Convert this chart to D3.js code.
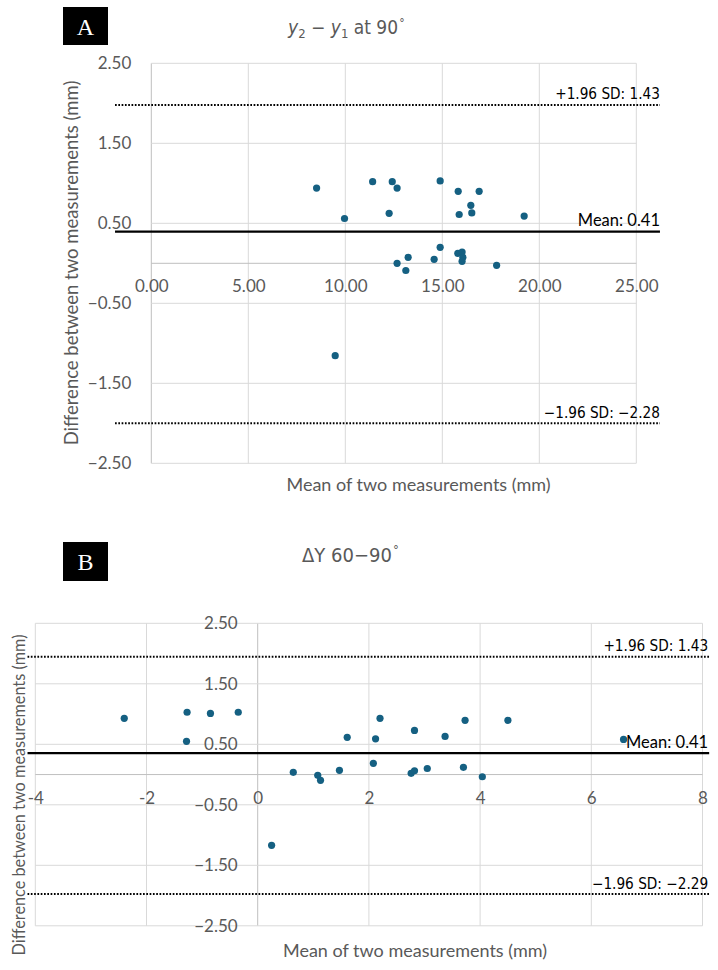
<!DOCTYPE html>
<html><head><meta charset="utf-8">
<script src="https://cdn.jsdelivr.net/npm/d3@7"></script>
<style>body{margin:0;background:#fff} svg{display:block}</style>
</head><body><svg id="c" width="718" height="970"></svg>
<script>
// ---------- Panel A data ----------
const meanA = [8.52, 11.41, 12.42, 12.67, 14.89, 15.82, 16.90, 16.47, 16.52, 15.87, 12.26, 9.96, 19.22, 14.89, 15.80, 16.02, 16.06, 16.02, 14.58, 13.24, 12.67, 13.12, 17.80, 9.48];
const diffA = [0.94, 1.02, 1.02, 0.94, 1.03, 0.90, 0.90, 0.725, 0.63, 0.61, 0.625, 0.56, 0.59, 0.20, 0.125, 0.14, 0.075, 0.025, 0.05, 0.075, 0.0, -0.09, -0.025, -1.155];
const xTicksA = [0, 5, 10, 15, 20, 25];
const xTickLabelsA = ["0.00", "5.00", "10.00", "15.00", "20.00", "25.00"];
const yTicks = [2.5, 1.5, 0.5, -0.5, -1.5, -2.5];
const yTickLabels = ["2.50", "1.50", "0.50", "\u22120.50", "\u22121.50", "\u22122.50"];
const lineValuesA = [1.98, 0.395, -2.0];
const lineLabelsA = ["+1.96 SD: 1.43", "Mean: 0.41", "\u22121.96 SD: \u22122.28"];
const lineKinds = ["dotted", "solid", "dotted"];
const lineExtentA = [-1.87, 26.22];

// ---------- Panel B data ----------
const meanB = [-2.40, -1.27, -0.85, -0.35, -1.28, 1.61, 0.64, 1.08, 1.13, 1.47, 2.20, 2.12, 2.08, 2.82, 2.76, 2.82, 3.05, 3.37, 3.73, 3.70, 4.50, 4.04, 6.58, 0.25];
const diffB = [0.93, 1.03, 1.01, 1.03, 0.55, 0.615, 0.036, -0.013, -0.096, 0.07, 0.93, 0.59, 0.185, 0.73, 0.02, 0.063, 0.10, 0.63, 0.896, 0.12, 0.896, -0.036, 0.58, -1.17];
const xTicksB = [-4, -2, 0, 2, 4, 6, 8];
const xTickLabelsB = ["-4", "-2", "0", "2", "4", "6", "8"];
const lineValuesB = [1.947, 0.355, -1.975];
const lineLabelsB = ["+1.96 SD: 1.43", "Mean: 0.41", "\u22121.96 SD: \u22122.29"];
const lineExtentB = [-4.14, 8.12];

const axisTitleX = "Mean of two measurements (mm)";
const axisTitleY = "Difference between two measurements (mm)";

const FONT = "Lato, 'Open Sans', sans-serif";
const NARROW = "'Liberation Sans Narrow', 'DejaVu Sans Condensed', 'Roboto Condensed', sans-serif";
const GRAY = "#595959";
const DOT = "#156082";

const svg = d3.select("#c");

function panel(cfg) {
  const g = svg.append("g");
  const x = d3.scaleLinear().domain(cfg.xDomain).range(cfg.xRange);
  const y = d3.scaleLinear().domain([-2.5, 2.5]).range(cfg.yRange);

  // gridlines
  g.append("g").selectAll("line").data(cfg.xTicks).join("line")
    .attr("x1", d => x(d)).attr("x2", d => x(d))
    .attr("y1", y(2.5)).attr("y2", y(-2.5))
    .attr("stroke", d => d === 0 ? "#bfbfbf" : "#d9d9d9").attr("stroke-width", 1);
  g.append("g").selectAll("line").data(yTicks).join("line")
    .attr("x1", x(cfg.xDomain[0])).attr("x2", x(cfg.xDomain[1]))
    .attr("y1", d => y(d)).attr("y2", d => y(d))
    .attr("stroke", "#d9d9d9").attr("stroke-width", 1);
  // zero axis line
  g.append("line").attr("x1", x(cfg.xDomain[0])).attr("x2", x(cfg.xDomain[1]))
    .attr("y1", y(0)).attr("y2", y(0)).attr("stroke", "#bfbfbf").attr("stroke-width", 1);

  // axes (labels only)
  const yAxis = d3.axisLeft(y).tickValues(yTicks).tickSize(0).tickPadding(20)
    .tickFormat((d, i) => yTickLabels[i]);
  const ya = g.append("g").attr("transform", `translate(${x(0)},0)`).call(yAxis);
  const xAxis = d3.axisBottom(x).tickValues(cfg.xTicks).tickSize(0).tickPadding(17)
    .tickFormat((d, i) => cfg.xTickLabels[i]);
  const xa = g.append("g").attr("transform", `translate(0,${y(0)})`).call(xAxis);
  [ya, xa].forEach(a => {
    a.select(".domain").remove();
    a.selectAll("text").attr("fill", GRAY).style("font-family", FONT).style("font-size", "17px");
  });

  // reference lines
  const lines = cfg.lineValues.map((v, i) => ({v, label: cfg.lineLabels[i], kind: lineKinds[i]}));
  g.append("g").selectAll("line").data(lines).join("line")
    .attr("x1", x(cfg.lineExtent[0])).attr("x2", x(cfg.lineExtent[1]))
    .attr("y1", d => y(d.v)).attr("y2", d => y(d.v))
    .attr("stroke", "#000")
    .attr("stroke-width", d => d.kind === "solid" ? 2.2 : 2)
    .attr("stroke-dasharray", d => d.kind === "solid" ? null : "1.7 1.6");

  // points
  g.append("g").selectAll("circle").data(cfg.xs.map((v, i) => [v, cfg.ys[i]])).join("circle")
    .attr("cx", d => x(d[0])).attr("cy", d => y(d[1])).attr("r", 3.6).attr("fill", DOT);

  // line labels
  g.append("g").selectAll("text").data(lines).join("text")
    .attr("x", x(cfg.lineExtent[1]) + cfg.labelShift).attr("y", d => y(d.v) - 5.5)
    .attr("text-anchor", "end").attr("fill", "#000")
    .style("font-family", d => d.kind === "solid" ? FONT : NARROW)
    .style("font-size", d => d.kind === "solid" ? "16.5px" : "15.2px")
    .text(d => d.label);

  // axis titles
  g.append("text").attr("x", cfg.xTitle[0]).attr("y", cfg.xTitle[1])
    .attr("text-anchor", "middle").attr("fill", GRAY)
    .style("font-family", FONT).style("font-size", cfg.xTitleSize)
    .text(axisTitleX);
  g.append("text").attr("transform", `translate(${cfg.yTitle[0]},${cfg.yTitle[1]}) rotate(-90)`)
    .attr("text-anchor", "middle").attr("fill", GRAY)
    .style("font-family", FONT).style("font-size", cfg.yTitleSize)
    .text(axisTitleY);

  // letter box
  g.append("rect").attr("x", cfg.box[0]).attr("y", cfg.box[1]).attr("width", cfg.box[2]).attr("height", cfg.box[3]).attr("fill", "#000");
  g.append("text").attr("x", cfg.box[0] + cfg.box[2] / 2).attr("y", cfg.box[1] + cfg.box[3] / 2 + 8.5)
    .attr("text-anchor", "middle").attr("fill", "#fff")
    .style("font-family", "'Liberation Serif', 'DejaVu Serif', serif").style("font-size", "24px")
    .text(cfg.letter);
  return g;
}

panel({
  xDomain: [0, 25], xRange: [151.3, 636.3], yRange: [463.3, 63.3],
  xTicks: xTicksA, xTickLabels: xTickLabelsA,
  xs: meanA, ys: diffA,
  lineValues: lineValuesA, lineLabels: lineLabelsA, lineExtent: lineExtentA, labelShift: 0,
  xTitle: [418.5, 491], xTitleSize: "18px",
  yTitle: [78, 263], yTitleSize: "18.5px",
  box: [63, 7, 45, 38], letter: "A"
});

panel({
  xDomain: [-4, 8], xRange: [35.3, 702.5], yRange: [925.8, 623.3],
  xTicks: xTicksB, xTickLabels: xTickLabelsB,
  xs: meanB, ys: diffB,
  lineValues: lineValuesB, lineLabels: lineLabelsB, lineExtent: lineExtentB, labelShift: -1,
  xTitle: [415, 957], xTitleSize: "18px",
  yTitle: [25, 795], yTitleSize: "16.3px",
  box: [63, 542, 45, 39], letter: "B"
});

// titles
const tA = svg.append("text").attr("x", 288).attr("y", 34).attr("fill", GRAY)
  .style("font-family", NARROW).style("font-size", "19px");
tA.append("tspan").style("font-style", "italic").text("y");
tA.append("tspan").attr("dy", 4).style("font-size", "13px").text("2");
tA.append("tspan").attr("dy", -4).text(" \u2212 ");
tA.append("tspan").style("font-style", "italic").text("y");
tA.append("tspan").attr("dy", 4).style("font-size", "13px").text("1");
tA.append("tspan").attr("dy", -4).text(" at 90");
tA.append("tspan").attr("dy", -7).attr("dx", 1).style("font-size", "12px").text("\u00B0");

const tB = svg.append("text").attr("x", 302).attr("y", 562).attr("fill", GRAY)
  .style("font-family", NARROW).style("font-size", "20px");
tB.append("tspan").text("\u0394Y 60\u221290");
tB.append("tspan").attr("dy", -8).attr("dx", 1).style("font-size", "13px").text("\u00B0");
</script>
</body></html>
